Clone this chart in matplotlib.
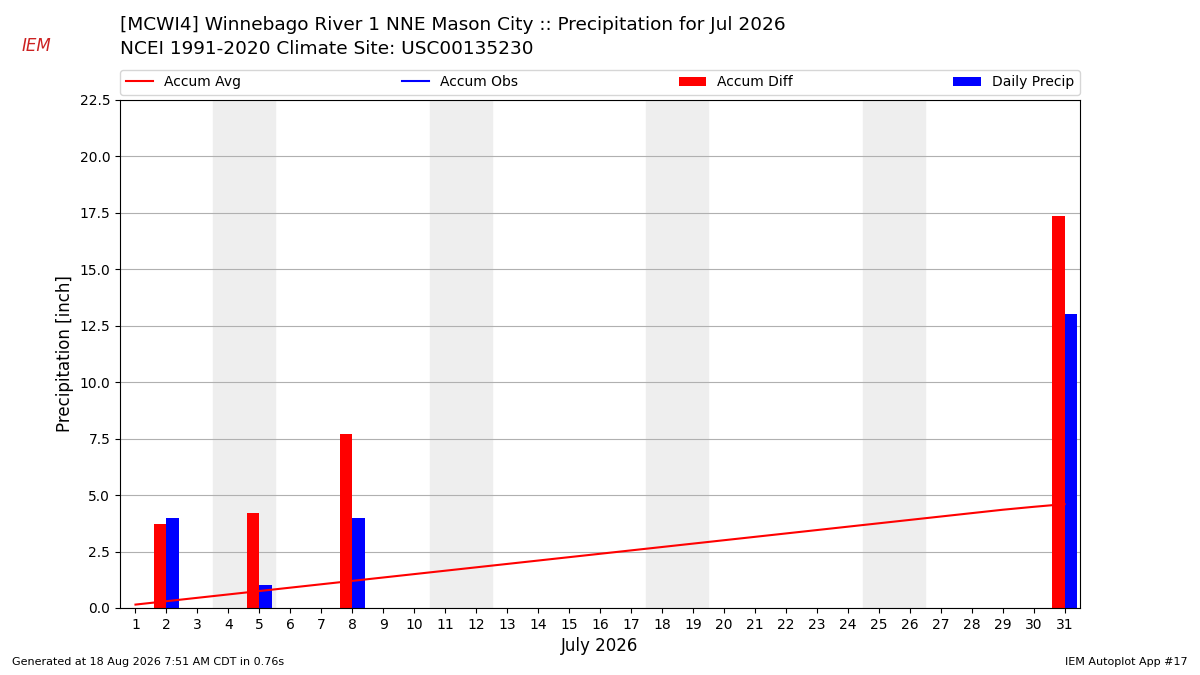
import matplotlib
matplotlib.use("Agg")
import matplotlib.pyplot as plt

days = list(range(1, 32))
accum_avg = [0.15, 0.30, 0.45, 0.60, 0.75, 0.90, 1.05, 1.20, 1.35, 1.50, 1.65, 1.80, 1.95,
             2.10, 2.25, 2.40, 2.55, 2.70, 2.85, 3.00, 3.15, 3.30, 3.45, 3.60, 3.75, 3.90,
             4.05, 4.20, 4.35, 4.48, 4.60]
bar_days = [2, 5, 8, 31]
accum_diff = [3.7, 4.2, 7.7, 17.35]
daily_precip = [4.0, 1.0, 4.0, 13.0]
weekends = [(4, 5), (11, 12), (18, 19), (25, 26)]

fig = plt.figure(figsize=(12, 6.75), dpi=100)
ax = fig.add_axes([0.1, 0.0993, 0.8, 0.7526])
for a, b in weekends:
    ax.axvspan(a - 0.5, b + 0.5, color="#eeeeee", zorder=0)
ax.plot(days, accum_avg, color="red", label="Accum Avg", zorder=3)
ax.plot([], [], color="blue", label="Accum Obs")
ax.bar([d - 0.2 for d in bar_days], accum_diff, width=0.4, color="red", label="Accum Diff", zorder=2)
ax.bar([d + 0.2 for d in bar_days], daily_precip, width=0.4, color="blue", label="Daily Precip", zorder=2)
ax.set_xlim(0.5, 31.5)
ax.set_ylim(0, 22.5)
ax.set_xticks(days)
ax.set_yticks([0, 2.5, 5, 7.5, 10, 12.5, 15, 17.5, 20, 22.5])
ax.yaxis.grid(True, color="#b0b0b0")
ax.set_axisbelow(True)
ax.tick_params(labelsize=10)
ax.set_xlabel("July 2026", fontsize=12)
ax.set_ylabel("Precipitation [inch]", fontsize=12)
ax.legend(loc="lower left", bbox_to_anchor=(0, 1.01, 1, 0.1), ncol=4, mode="expand",
          borderaxespad=0, fontsize=10)
fig.text(0.1, 0.963, "[MCWI4] Winnebago River 1 NNE Mason City :: Precipitation for Jul 2026",
         fontsize=13.3, va="center")
fig.text(0.1, 0.928, "NCEI 1991-2020 Climate Site: USC00135230", fontsize=13.3, va="center")
fig.text(0.03, 0.925, "IEM", fontsize=12, color="#cc2222", style="italic", ha="center")
fig.text(0.01, 0.015, "Generated at 18 Aug 2026 7:51 AM CDT in 0.76s", fontsize=8)
fig.text(0.99, 0.015, "IEM Autoplot App #17", fontsize=8, ha="right")
fig.savefig("out.png", dpi=100)
